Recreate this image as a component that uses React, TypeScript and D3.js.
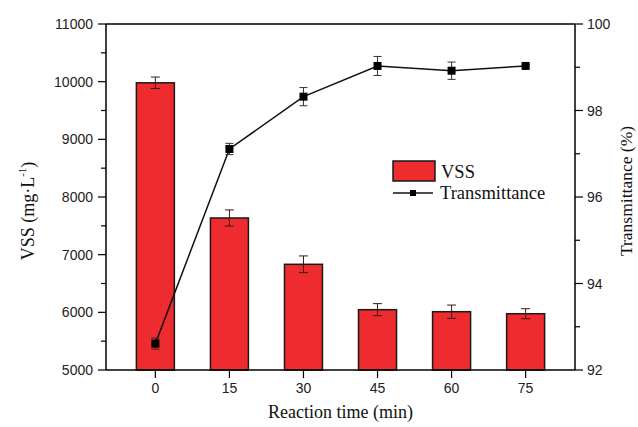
import React from "react";
import * as d3 from "d3";

const times = [0, 15, 30, 45, 60, 75];
const vss = [9980, 7636, 6833, 6046, 6011, 5976];
const vssErr = [100, 140, 145, 105, 115, 87];
const trans = [92.61, 97.11, 98.32, 99.03, 98.92, 99.03];
const transErr = [0.13, 0.13, 0.21, 0.22, 0.2, 0.03];
const leftTicks = [5000, 6000, 7000, 8000, 9000, 10000, 11000];
const rightTicks = [92, 94, 96, 98, 100];

const W = 638, H = 427;
const L = 106, R = 575, T = 24, B = 370;

export default function App() {
  const x = d3.scaleLinear().domain([-10, 85]).range([L, R]);
  const yL = d3.scaleLinear().domain([5000, 11000]).range([B, T]);
  const yR = d3.scaleLinear().domain([92, 100]).range([B, T]);
  const barW = 38;
  const red = "#EE2B2E";
  const sans = "'Liberation Sans', Arial, sans-serif";
  const serif = "'Liberation Serif', 'Times New Roman', serif";
  const line = d3.line<number>().x((_, i) => x(times[i])).y((d) => yR(d));
  const leftMinor = d3.range(5500, 11000, 1000);
  const rightMinor = d3.range(93, 100, 2);

  return (
    <svg width={W} height={H} style={{ position: "absolute", left: 0, top: 0, background: "#fff" }}>
      <rect x={0} y={0} width={W} height={H} fill="#fff" />
      {/* bars */}
      {vss.map((v, i) => (
        <rect key={"b" + i} x={x(times[i]) - barW / 2} y={yL(v)} width={barW} height={B - yL(v)}
          fill={red} stroke="#1a1a1a" strokeWidth={1.5} />
      ))}
      {/* bar error bars */}
      {vss.map((v, i) => {
        const cx = x(times[i]);
        const y1 = yL(v + vssErr[i]), y2 = yL(v - vssErr[i]);
        return (
          <g key={"be" + i} stroke="#3a1a1a" strokeWidth={1}>
            <line x1={cx} x2={cx} y1={y1} y2={y2} />
            <line x1={cx - 4.5} x2={cx + 4.5} y1={y1} y2={y1} />
            <line x1={cx - 4.5} x2={cx + 4.5} y1={y2} y2={y2} />
          </g>
        );
      })}
      {/* transmittance */}
      <path d={line(trans) || ""} fill="none" stroke="#111" strokeWidth={1.5} />
      {trans.map((v, i) => {
        const cx = x(times[i]);
        const y1 = yR(v + transErr[i]), y2 = yR(v - transErr[i]);
        return (
          <g key={"te" + i} stroke="#333" strokeWidth={1}>
            <line x1={cx} x2={cx} y1={y1} y2={y2} />
            <line x1={cx - 4} x2={cx + 4} y1={y1} y2={y1} />
            <line x1={cx - 4} x2={cx + 4} y1={y2} y2={y2} />
          </g>
        );
      })}
      {trans.map((v, i) => (
        <rect key={"m" + i} x={x(times[i]) - 4} y={yR(v) - 4} width={8} height={8} fill="#000" />
      ))}
      {/* frame */}
      <g stroke="#000" strokeWidth={1.5} fill="none">
        <line x1={L} x2={R} y1={T} y2={T} />
        <line x1={L} x2={R} y1={B} y2={B} />
        <line x1={L} x2={L} y1={T} y2={B} />
        <line x1={R} x2={R} y1={T} y2={B} />
      </g>
      {/* ticks */}
      <g stroke="#000" strokeWidth={1.2}>
        {leftTicks.map((t) => (
          <line key={"lt" + t} x1={L - 8} x2={L} y1={yL(t)} y2={yL(t)} />
        ))}
        {leftMinor.map((t) => (
          <line key={"lm" + t} x1={L - 5} x2={L} y1={yL(t)} y2={yL(t)} />
        ))}
        {rightTicks.map((t) => (
          <line key={"rt" + t} x1={R} x2={R + 8} y1={yR(t)} y2={yR(t)} />
        ))}
        {rightMinor.map((t) => (
          <line key={"rm" + t} x1={R} x2={R + 5} y1={yR(t)} y2={yR(t)} />
        ))}
        {times.map((t) => (
          <line key={"xt" + t} x1={x(t)} x2={x(t)} y1={B} y2={B + 8} />
        ))}
      </g>
      {/* tick labels */}
      <g fontFamily={sans} fontSize={14} fill="#222">
        {leftTicks.map((t) => (
          <text key={"ll" + t} x={L - 13} y={yL(t)} textAnchor="end" dominantBaseline="central">{t}</text>
        ))}
        {rightTicks.map((t) => (
          <text key={"rl" + t} x={R + 12} y={yR(t)} textAnchor="start" dominantBaseline="central">{t}</text>
        ))}
        {times.map((t) => (
          <text key={"xl" + t} x={x(t)} y={393} textAnchor="middle">{t}</text>
        ))}
      </g>
      {/* axis titles */}
      <g fontFamily={serif} fontSize={18} fill="#111">
        <text x={(L + R) / 2} y={418} textAnchor="middle">Reaction time (min)</text>
        <text transform={`translate(28,211) rotate(-90)`} textAnchor="middle" dominantBaseline="central">
          VSS (mg·L<tspan baselineShift="super" fontSize={11}>-1</tspan>)
        </text>
        <text transform={`translate(626,191) rotate(-90)`} textAnchor="middle" dominantBaseline="central" fontSize={17.5}>
          Transmittance (%)
        </text>
      </g>
      {/* legend */}
      <rect x={393} y={161} width={42} height={20} fill={red} stroke="#1a1a1a" strokeWidth={1.5} />
      <line x1={393} x2={433} y1={193} y2={193} stroke="#111" strokeWidth={1.5} />
      <rect x={410} y={190} width={6} height={6} fill="#000" />
      <g fontFamily={serif} fontSize={18.5} fill="#111">
        <text x={441} y={178}>VSS</text>
        <text x={440} y={199}>Transmittance</text>
      </g>
    </svg>
  );
}
